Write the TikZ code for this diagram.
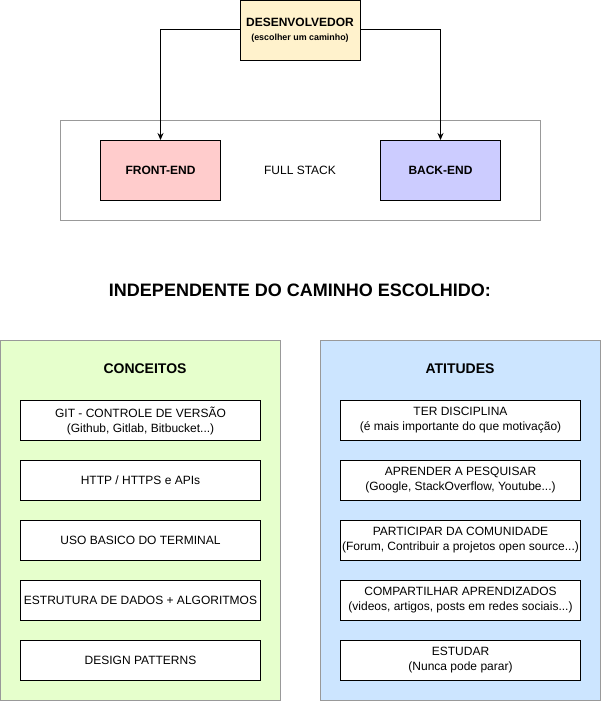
\documentclass[tikz,border=0pt]{standalone}
\usepackage{fontspec}
\setmainfont{Liberation Sans}
\usetikzlibrary{arrows.meta}
\definecolor{devfill}{HTML}{FFF2CC}
\definecolor{frontfill}{HTML}{FFCCCC}
\definecolor{backfill}{HTML}{CCCCFF}
\definecolor{concfill}{HTML}{E6FFCC}
\definecolor{atitfill}{HTML}{CCE5FF}
\definecolor{contgray}{HTML}{999999}
\tikzset{
  blk/.style={draw=black, line width=1pt, inner sep=0pt, anchor=north west},
  cont/.style={draw=contgray, line width=1pt, inner sep=0pt, anchor=north west},
  item/.style={blk, fill=white, minimum width=240pt, minimum height=40pt, align=center, font=\fontsize{12}{15}\selectfont},
  conn/.style={draw=black, line width=1pt, -{Stealth[length=7pt,width=6pt]}},
  ttl/.style={font=\bfseries\fontsize{12}{14}\selectfont},
  bigttl/.style={font=\bfseries\fontsize{14}{16}\selectfont}
}
\begin{document}
\begin{tikzpicture}[x=1pt,y=-1pt]
\useasboundingbox (0,0) rectangle (601,701);
% full stack container
\node[cont, minimum width=480pt, minimum height=100pt] (fs) at (60,120) {};
\node[font=\fontsize{12}{14}\selectfont] (fslbl) at (300,170) {FULL STACK};
% developer
\node[blk, fill=devfill, minimum width=120pt, minimum height=60pt] (dev) at (240,0) {};
\node[ttl] (devt) at (300,22) {DESENVOLVEDOR};
\node[font=\bfseries\fontsize{8.9}{10}\selectfont] (devs) at (300,38) {(escolher um caminho)};
% front / back
\node[blk, fill=frontfill, minimum width=120pt, minimum height=60pt, ttl] (front) at (100,140) {FRONT-END};
\node[blk, fill=backfill, minimum width=120pt, minimum height=60pt, ttl] (back) at (380,140) {BACK-END};
\draw[conn] (dev.west |- 0,30) -| (front.north);
\draw[conn] (dev.east |- 0,30) -| (back.north);
% heading
\node[font=\bfseries\fontsize{18}{21}\selectfont] (head) at (300,290) {INDEPENDENTE DO CAMINHO ESCOLHIDO:};
% containers
\node[cont, fill=concfill, minimum width=280pt, minimum height=360pt] (conc) at (0,340) {};
\node[cont, fill=atitfill, minimum width=280pt, minimum height=360pt] (atit) at (320,340) {};
\node[bigttl] (conct) at (145,369) {CONCEITOS};
\node[bigttl] (atitt) at (460,369) {ATITUDES};
% conceitos items
\node[item] (c1) at (20,400) {GIT - CONTROLE DE VERSÃO\\(Github, Gitlab, Bitbucket...)};
\node[item] (c2) at (20,460) {HTTP / HTTPS e APIs};
\node[item] (c3) at (20,520) {USO BASICO DO TERMINAL};
\node[item] (c4) at (20,580) {ESTRUTURA DE DADOS + ALGORITMOS};
\node[item] (c5) at (20,640) {DESIGN PATTERNS};
% atitudes items
\node[item] (a1) at (340,400) {TER DISCIPLINA\\(é mais importante do que motivação)};
\node[item] (a2) at (340,460) {APRENDER A PESQUISAR\\(Google, StackOverflow, Youtube...)};
\node[item] (a3) at (340,520) {PARTICIPAR DA COMUNIDADE\\(Forum, Contribuir a projetos open source...)};
\node[item] (a4) at (340,580) {COMPARTILHAR APRENDIZADOS\\(videos, artigos, posts em redes sociais...)};
\node[item] (a5) at (340,640) {ESTUDAR\\(Nunca pode parar)};
\end{tikzpicture}
\end{document}
